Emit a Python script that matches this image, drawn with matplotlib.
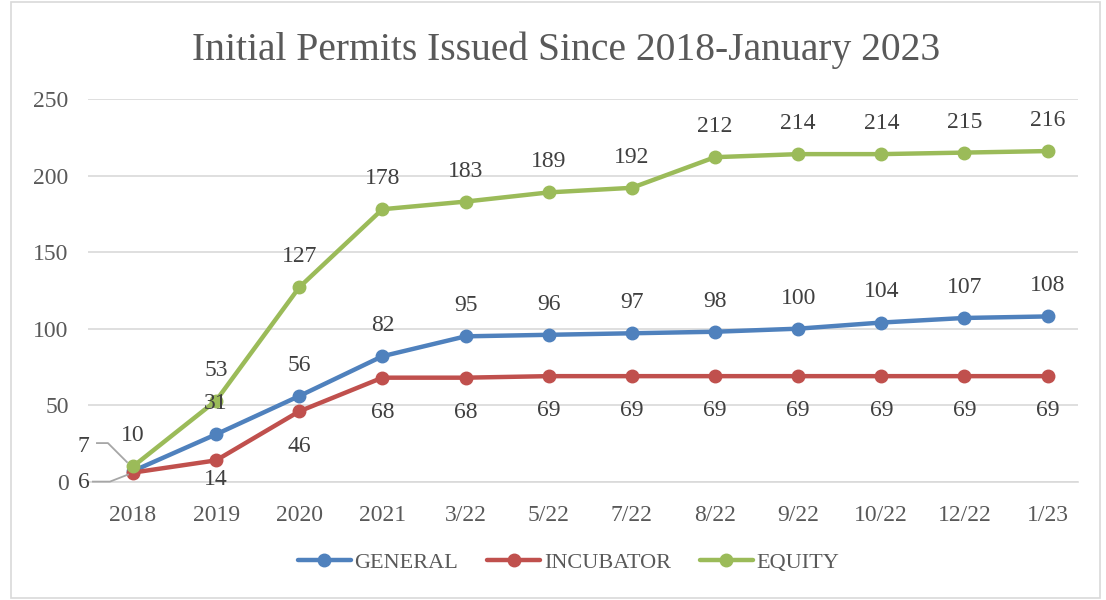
import matplotlib.pyplot as plt
from matplotlib.patches import Rectangle
from matplotlib.lines import Line2D

categories = ["2018", "2019", "2020", "2021", "3/22", "5/22", "7/22", "8/22",
              "9/22", "10/22", "12/22", "1/23"]
general = [7, 31, 56, 82, 95, 96, 97, 98, 100, 104, 107, 108]
incubator = [6, 14, 46, 68, 68, 69, 69, 69, 69, 69, 69, 69]
equity = [10, 53, 127, 178, 183, 189, 192, 212, 214, 214, 215, 216]

plt.rcParams['font.family'] = ['Liberation Serif', 'DejaVu Serif']
txt = '#404040'
fs = 17

fig = plt.figure(figsize=(11.06, 6), dpi=100)
ax = fig.add_axes([0.0796, 0.197, 0.8954, 0.638])
fig.patches.append(Rectangle((0.01, 0.003), 0.985, 0.994, transform=fig.transFigure,
                             fill=False, edgecolor='#d9d9d9', lw=1.2))

x = list(range(len(categories)))
series = [("GENERAL", general, '#4f81bd', 22),
          ("INCUBATOR", incubator, '#c0504d', -25),
          ("EQUITY", equity, '#9bbb59', 22)]

for name, vals, col, off in series:
    ax.plot(x, vals, color=col, lw=3.2, marker='o', markersize=9,
            solid_capstyle='round', label=name)
    for i, v in enumerate(vals):
        if i == 0 and name != "EQUITY":
            continue
        o = off
        if name == "INCUBATOR" and i == 1:
            o = -14   # squeezed above the axis labels
        ax.annotate(str(v), (i, v), xytext=(0, o), textcoords='offset points',
                    ha='center', va='center', fontsize=fs, color=txt)

ax.set_xlim(-0.54, 11.37)
ax.set_ylim(0, 250)
ax.set_yticks([0, 50, 100, 150, 200, 250])
ax.set_xticks(x)
ax.set_xticklabels(categories)
ax.grid(axis='y', color='#d9d9d9', lw=1.2)
ax.set_axisbelow(True)
for s in ['top', 'right', 'left']:
    ax.spines[s].set_visible(False)
ax.spines['bottom'].set_color('#d9d9d9')
ax.spines['bottom'].set_linewidth(1.2)
ax.tick_params(length=0, labelsize=fs, colors='#595959')
ax.tick_params(axis='x', pad=17)
ax.tick_params(axis='y', pad=14)

# 2018 labels for GENERAL and INCUBATOR sit to the left with leader lines
lead = '#a6a6a6'
px, py = ax.transData.transform((0, general[0]))
fig.text(px - 50, py + 25, str(general[0]), transform=None, ha='center', va='center',
         fontsize=fs, color=txt)
fig.add_artist(Line2D([px - 36, px - 25, px - 6], [py + 28, py + 28, py + 9],
                      transform=None, color=lead, lw=1.3))
px, py = ax.transData.transform((0, incubator[0]))
fig.text(px - 49, py - 10, str(incubator[0]), transform=None, ha='center', va='center',
         fontsize=fs, color=txt)
fig.add_artist(Line2D([px - 40, px - 23, px - 5], [py - 9, py - 9, py - 2],
                      transform=None, color=lead, lw=1.3))

fig.suptitle("Initial Permits Issued Since 2018-January 2023", x=0.512, y=0.947,
             fontsize=28.5, color='#595959')
fig.legend(loc='center', bbox_to_anchor=(0.514, 0.062), ncol=3, frameon=False,
           fontsize=16, handlelength=2.4, columnspacing=1.3, handletextpad=0.15,
           labelcolor='#595959')

fig.savefig("out.png", dpi=100)
